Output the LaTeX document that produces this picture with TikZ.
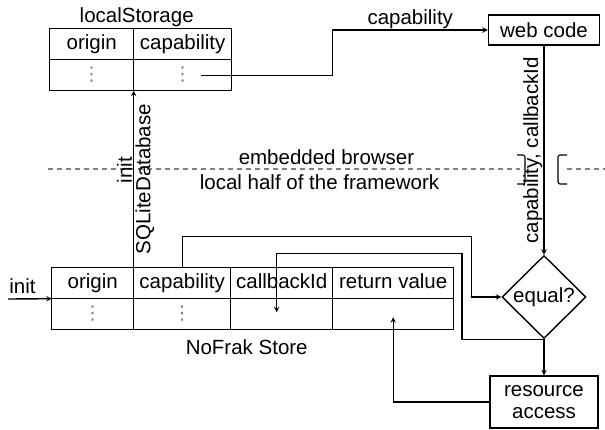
\documentclass[tikz,border=0pt]{standalone}
\usepackage{fontspec}
\setmainfont{Liberation Sans}
\newfontfamily\dotsfont{DejaVu Sans}
\usetikzlibrary{positioning}
\usetikzlibrary{calc}
\usetikzlibrary{matrix}
\usetikzlibrary{shapes.geometric}

\newcommand{\vd}{{\color{gray}\dotsfont\fontsize{19}{19}\selectfont ⋮}}

\tikzset{
  cell/.style={draw, anchor=center, minimum height=31pt, text height=14pt, text depth=4pt, inner sep=2pt},
  tbl/.style={matrix of nodes, anchor=north west, inner sep=0pt, outer sep=0pt,
    column sep=-\pgflinewidth, row sep=-\pgflinewidth, nodes={cell}},
  box/.style={draw, align=center},
  lbl/.style={inner sep=1pt},
}

\begin{document}
\begin{tikzpicture}[x=1pt, y=-1pt, line width=1.4pt, font=\fontsize{20.5}{22}\selectfont]
\useasboundingbox (0,0) rectangle (605,429);
\matrix (ls) [tbl, column 1/.style={nodes={minimum width=84pt}}, column 2/.style={nodes={minimum width=98pt}}] at (49,28)
  {
     origin & capability \\
     \vd & \vd \\
  };
\node (lstitle) [lbl, above=0pt of ls, xshift=-4pt] {localStorage};
\matrix (nf) [tbl, column 1/.style={nodes={minimum width=82pt}}, column 2/.style={nodes={minimum width=97pt}},
  column 3/.style={nodes={minimum width=102pt}}, column 4/.style={nodes={minimum width=121pt}}] at (51,267)
  {
     origin & capability & callbackId & return value \\
     \vd & \vd & {} & {} \\
  };
\node (nftitle) [lbl, below=8pt of nf, xshift=-6pt] {NoFrak Store};
\node (web) [box, minimum width=111pt, minimum height=30pt] at (544,30) {web code};
\node (eq) [draw, diamond, inner sep=0pt, minimum width=84pt, minimum height=83pt] at (544,297) {equal?};
\node (ra) [box, minimum width=108pt, minimum height=52pt] at (544,402) {resource\\access};
\coordinate (initin) at (8,299);
\coordinate (bl) at (48,169);
\coordinate (br) at (605,169);
\coordinate (cut) at (web.south |- bl);

  \draw[gray, line width=1.2pt, dash pattern=on 5pt off 4pt] (bl) -- ([xshift=-24pt]cut);
  \draw[gray, line width=1.2pt, dash pattern=on 5pt off 4pt] ([xshift=23pt]cut) -- (br);
  \node (emb) [above, inner sep=4pt] at ($(bl)!.5!(br)$) {embedded browser};
  \node (loc) [below, inner sep=5pt, xshift=-7pt] at ($(bl)!.5!(br)$) {local half of the framework};
  \draw[line width=1.1pt, rounded corners=2pt] ([xshift=-27pt,yshift=14pt]cut) -- ++(8,0) -- ++(0,29) -- ++(-8,0);
  \draw[line width=1.1pt, rounded corners=2pt] ([xshift=23pt,yshift=14pt]cut) -- ++(-9,0) -- ++(0,29) -- ++(9,0);

  \path[-stealth] (initin) edge node [above, pos=0.33, inner sep=5pt] {init} (nf-1-1.south west);
  \path[-stealth] (nf-1-1.north east) edge node [lbl, rotate=90, anchor=south, pos=0.55] {init}
    node [lbl, rotate=90, anchor=north] {SQLiteDatabase} (ls-2-1.south east);
  \draw[-stealth] ([xshift=18pt]ls-2-2.center) -- ++(132,0) |- node [lbl, above, pos=0.75] {capability} (web.west);
  \path[-stealth] (web.south) edge node [lbl, rotate=90, anchor=south] {capability, callbackId} (eq.north);
  \draw[-stealth] (nf-1-2.north) -- ++(0,-31) -| ([xshift=-30pt]eq.west) -- (eq.west);
  \draw[-stealth] (eq.south) -- ++(-82,0) -- ++(0,-86) -| ([xshift=-5pt,yshift=2pt]nf-2-3.center);
  \path[-stealth] (eq.south) edge (ra.north);
  \draw[-stealth] (ra.west) -| ([yshift=-3pt]nf-2-4.center);
\end{tikzpicture}
\end{document}
